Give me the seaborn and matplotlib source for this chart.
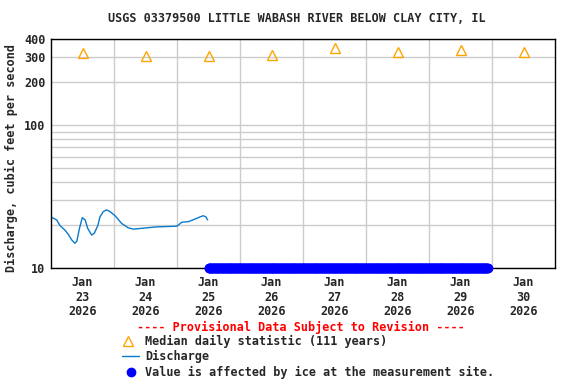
import pandas as pd
import seaborn as sns
import matplotlib
matplotlib.use("Agg")
import matplotlib.pyplot as plt
from matplotlib.lines import Line2D

# values
median_days = ["2026-01-23 12:00", "2026-01-24 12:00", "2026-01-25 12:00", "2026-01-26 12:00",
               "2026-01-27 12:00", "2026-01-28 12:00", "2026-01-29 12:00", "2026-01-30 12:00"]
median_cfs = [318, 304, 304, 310, 345, 325, 336, 325]

q_times = ["2026-01-23 00:15", "2026-01-23 02:10", "2026-01-23 03:25", "2026-01-23 05:20",
           "2026-01-23 06:35", "2026-01-23 07:55", "2026-01-23 09:05", "2026-01-23 09:50",
           "2026-01-23 10:50", "2026-01-23 11:55", "2026-01-23 13:00", "2026-01-23 14:00",
           "2026-01-23 15:30", "2026-01-23 16:30", "2026-01-23 17:50", "2026-01-23 18:40",
           "2026-01-23 19:55", "2026-01-23 21:10", "2026-01-23 22:30", "2026-01-24 00:25",
           "2026-01-24 02:55", "2026-01-24 05:25", "2026-01-24 07:25", "2026-01-24 09:55",
           "2026-01-24 16:20", "2026-01-24 23:55", "2026-01-25 01:50", "2026-01-25 04:20",
           "2026-01-25 06:55", "2026-01-25 08:50", "2026-01-25 10:00", "2026-01-25 11:00",
           "2026-01-25 11:40"]
q_cfs = [22.6, 21.7, 19.8, 18.4, 17.2, 15.7, 14.9, 15.4, 18.9, 22.5, 21.7, 18.9, 17.0,
         17.5, 19.8, 22.8, 24.8, 25.5, 24.8, 23.2, 20.5, 19.1, 18.7, 18.9, 19.4, 19.6,
         20.9, 21.1, 22.0, 22.8, 23.2, 22.8, 21.7]

ice_start = "2026-01-25 12:00"
ice_end = "2026-01-29 22:30"
ice_cfs = 10

day_labels = ["Jan\n23\n2026", "Jan\n24\n2026", "Jan\n25\n2026", "Jan\n26\n2026",
              "Jan\n27\n2026", "Jan\n28\n2026", "Jan\n29\n2026", "Jan\n30\n2026"]

med = pd.DataFrame({"t": pd.to_datetime(median_days), "v": median_cfs})
q = pd.DataFrame({"t": pd.to_datetime(q_times), "v": q_cfs})
ice_t = pd.date_range(ice_start, ice_end, freq="15min")
ice = pd.DataFrame({"t": ice_t, "v": [ice_cfs] * len(ice_t)})

sns.set_style("white")
plt.rcParams["font.family"] = ["DejaVu Sans Mono"]
plt.rcParams["font.weight"] = "bold"
fs = 8.5

fig = plt.figure(figsize=(5.76, 3.84), dpi=100)
ax = fig.add_axes([51 / 576, 1 - 268 / 384, 504 / 576, 229 / 384])

orange = "#FFA500"
qblue = "#0a7acc"
ice_blue = "#0000FF"

sns.lineplot(data=q, x="t", y="v", ax=ax, color=qblue, linewidth=1.0)
ax.plot(med["t"], med["v"], linestyle="none", marker="^", markersize=7,
        markerfacecolor="none", markeredgecolor=orange, markeredgewidth=1.0)
ax.plot(ice["t"], ice["v"], linestyle="none", marker="o", markersize=6,
        color=ice_blue, clip_on=False, zorder=5)

ax.set_yscale("log")
ax.set_ylim(10, 400)
ax.set_xlim(pd.Timestamp("2026-01-23"), pd.Timestamp("2026-01-31"))

yt = [10, 20, 30, 40, 50, 60, 70, 80, 90, 100, 200, 300, 400]
ax.set_yticks(yt)
ax.set_yticklabels(["10", "", "", "", "", "", "", "", "", "100", "200", "300", "400"])
ax.yaxis.set_minor_locator(matplotlib.ticker.NullLocator())

ax.set_xticks(med["t"])
ax.set_xticklabels(day_labels, linespacing=1.15)
ax.set_xticks(pd.date_range("2026-01-24", "2026-01-30", freq="D"), minor=True)

ax.grid(True, which="major", axis="y", color="#cccccc", linewidth=1)
ax.grid(True, which="minor", axis="x", color="#cccccc", linewidth=1)
ax.tick_params(axis="both", which="both", length=0, labelsize=fs, pad=4)
ax.tick_params(axis="x", pad=6)
for lab in ax.get_xticklabels() + ax.get_yticklabels():
    lab.set_fontweight("bold")

for s in ax.spines.values():
    s.set_color("black")
    s.set_linewidth(1)

ax.set_xlabel("")
ax.set_ylabel("Discharge, cubic feet per second", fontsize=fs, fontweight="bold", labelpad=4)
ax.yaxis.set_label_coords(-33 / 504, 0.48)

fig.text(297 / 576, 1 - 19 / 384, "USGS 03379500 LITTLE WABASH RIVER BELOW CLAY CITY, IL",
         ha="center", va="center", fontsize=fs, fontweight="bold")

fig.text(301 / 576, 1 - 327 / 384, "---- Provisional Data Subject to Revision ----",
         ha="center", va="center", fontsize=fs, fontweight="bold", color="red")

rows = [(341, "Median daily statistic (111 years)"), (356, "Discharge"),
        (372, "Value is affected by ice at the measurement site.")]
fig.add_artist(Line2D([128 / 576], [1 - 341 / 384], marker="^", markersize=7, linestyle="none",
                      markerfacecolor="none", markeredgecolor=orange, markeredgewidth=1.0,
                      transform=fig.transFigure))
fig.add_artist(Line2D([122 / 576, 139 / 576], [1 - 356 / 384] * 2, color=qblue, linewidth=1.0,
                      transform=fig.transFigure))
fig.add_artist(Line2D([131 / 576], [1 - 372 / 384], marker="o", markersize=6, linestyle="none",
                      color=ice_blue, transform=fig.transFigure))
for y, txt in rows:
    fig.text(145 / 576, 1 - y / 384, txt, ha="left", va="center", fontsize=fs, fontweight="bold")

fig.savefig("out.png", dpi=100)
